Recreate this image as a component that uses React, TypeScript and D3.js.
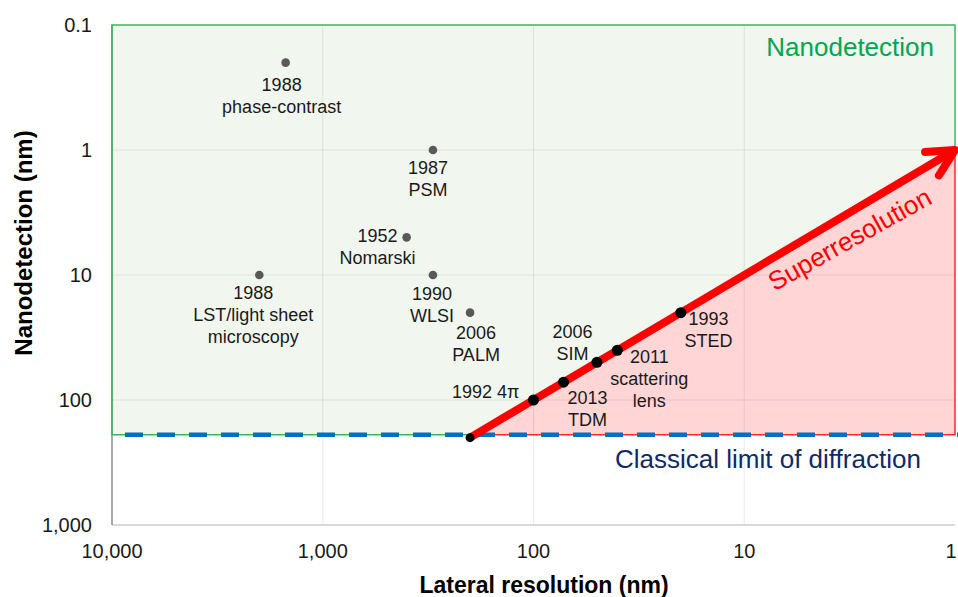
import React from "react";
import * as d3 from "d3";

// ---- data ----
const xTicks = [10000, 1000, 100, 10, 1];
const xTickLabels = ["10,000", "1,000", "100", "10", "1"];
const yTicks = [0.1, 1, 10, 100, 1000];
const yTickLabels = ["0.1", "1", "10", "100", "1,000"];

const otherNames = ["phase-contrast", "PSM", "Nomarski", "WLSI", "LST", "PALM"];
const otherLateral = [1500, 300, 400, 300, 2000, 200];
const otherDetection = [0.2, 1, 5, 10, 10, 20];

const superNames = ["4pi", "TDM", "SIM", "scattering", "STED"];
const superLateral = [100, 72, 50, 40, 20];
const superDetection = [100, 72, 50, 40, 20];

const diffractionLimit = 190;
const arrowStart = [200, 200];
const arrowEnd = [1, 1];

// label text + layout (pixel offsets from the point)
const labelLayout: Record<string, { lines: string[]; dx: number; dy: number; anchor?: string }> = {
  "phase-contrast": { lines: ["1988", "phase-contrast"], dx: -4, dy: 28 },
  PSM: { lines: ["1987", "PSM"], dx: -5, dy: 23.5 },
  Nomarski: { lines: ["1952", "Nomarski"], dx: -29, dy: 5 },
  WLSI: { lines: ["1990", "WLSI"], dx: -1, dy: 24.5 },
  LST: { lines: ["1988", "LST/light sheet", "microscopy"], dx: -6, dy: 24 },
  PALM: { lines: ["2006", "PALM"], dx: 6, dy: 26 },
  "4pi": { lines: ["1992 4\u03c0"], dx: -14, dy: -2, anchor: "end" },
  TDM: { lines: ["2013", "TDM"], dx: 24, dy: 22 },
  SIM: { lines: ["2006", "SIM"], dx: -24.5, dy: -24.4 },
  scattering: { lines: ["2011", "scattering", "lens"], dx: 32, dy: 12.4 },
  STED: { lines: ["1993", "STED"], dx: 27.6, dy: 12.4 },
};

const W = 958;
const H = 597;
const margin = { left: 112, right: 3, top: 25, bottom: 72 };
const FONT = "'Liberation Sans', Arial, sans-serif";

export default function App() {
  const x = d3.scaleLog().domain([10000, 1]).range([margin.left, W - margin.right]);
  const y = d3.scaleLog().domain([0.1, 1000]).range([margin.top, H - margin.bottom]);

  const x0 = x(10000), x1 = x(1), yT = y(0.1), yB = y(1000);
  const line = d3.line<number[]>().x((d) => x(d[0])).y((d) => y(d[1]));

  const greenPoly: number[][] = [
    [10000, 0.1], [1, 0.1], arrowEnd, arrowStart, [arrowStart[0], diffractionLimit], [10000, diffractionLimit],
  ];
  const redPoly: number[][] = [arrowStart, arrowEnd, [1, diffractionLimit], [arrowStart[0], diffractionLimit]];

  // arrow geometry
  const sx = x(arrowStart[0]), sy = y(arrowStart[1]);
  const ex = x(arrowEnd[0]), ey = y(arrowEnd[1]);
  const back = Math.atan2(sy - ey, sx - ex);
  const armLen = 30, armAng = (27 * Math.PI) / 180;
  const a1 = [ex + armLen * Math.cos(back - armAng), ey + armLen * Math.sin(back - armAng)];
  const a2 = [ex + armLen * Math.cos(back + armAng), ey + armLen * Math.sin(back + armAng)];
  const angleDeg = (Math.atan2(ey - sy, ex - sx) * 180) / Math.PI;

  const renderLabel = (name: string, px: number, py: number) => {
    const l = labelLayout[name];
    return (
      <text
        key={"lab-" + name}
        x={px + l.dx}
        y={py + l.dy}
        textAnchor={l.anchor || "middle"}
        fontSize={18}
        fill="#1a1a1a"
        fontFamily={FONT}
      >
        {l.lines.map((t, i) => (
          <tspan key={i} x={px + l.dx} dy={i === 0 ? 0 : 22}>
            {t}
          </tspan>
        ))}
      </text>
    );
  };

  return (
    <svg width={W} height={H} style={{ position: "absolute", left: 0, top: 0, background: "#fff" }} fontFamily={FONT}>
      {/* fills */}
      <path d={line(greenPoly)! + "Z"} fill="#f1f6ef" stroke="none" />
      <path d={line(redPoly)! + "Z"} fill="#ffd5d5" stroke="none" />

      {/* gridlines */}
      {xTicks.slice(1, -1).map((t) => (
        <line key={"gx" + t} x1={x(t)} x2={x(t)} y1={yT} y2={yB} stroke="#000" strokeOpacity={0.08} />
      ))}
      {yTicks.slice(1, -1).map((t) => (
        <line key={"gy" + t} x1={x0} x2={x1} y1={y(t)} y2={y(t)} stroke="#000" strokeOpacity={0.08} />
      ))}

      {/* axes */}
      <line x1={x0} x2={x1} y1={yB} y2={yB} stroke="#d9d9d9" strokeWidth={2} />
      <line x1={x0} x2={x0} y1={yT} y2={yB} stroke="#8c8c8c" strokeWidth={1.5} />

      {/* region borders */}
      <path d={line(greenPoly)! + "Z"} fill="none" stroke="#3cb55c" strokeWidth={1.5} />
      <path
        d={line([arrowEnd, [1, diffractionLimit], [arrowStart[0], diffractionLimit]])!}
        fill="none"
        stroke="#ff2a2a"
        strokeWidth={1.5}
      />

      {/* classical limit dashed */}
      <line
        x1={x0}
        x2={W}
        y1={y(diffractionLimit)}
        y2={y(diffractionLimit)}
        stroke="#0070c0"
        strokeWidth={4.5}
        strokeDasharray="18 14"
        strokeDashoffset={19}
      />

      {/* tick labels */}
      {xTicks.map((t, i) => (
        <text key={"xt" + t} x={Math.min(x(t), W - 7)} y={558} textAnchor="middle" fontSize={20} fill="#1a1a1a">
          {xTickLabels[i]}
        </text>
      ))}
      {yTicks.map((t, i) => (
        <text key={"yt" + t} x={92} y={y(t) + 7} textAnchor="end" fontSize={20} fill="#1a1a1a">
          {yTickLabels[i]}
        </text>
      ))}

      {/* axis titles */}
      <text x={544} y={593} textAnchor="middle" fontSize={23} fontWeight="bold" fill="#000">
        Lateral resolution (nm)
      </text>
      <text
        transform={`translate(32,${(yT + yB) / 2 - 32}) rotate(-90)`}
        textAnchor="middle"
        fontSize={24}
        fontWeight="bold"
        fill="#000"
      >
        Nanodetection (nm)
      </text>

      {/* other technique points */}
      {otherNames.map((n, i) => (
        <circle key={"o" + n} cx={x(otherLateral[i])} cy={y(otherDetection[i])} r={4.3} fill="#595959" />
      ))}
      {otherNames.map((n, i) => renderLabel(n, x(otherLateral[i]), y(otherDetection[i])))}

      {/* superresolution arrow */}
      <path d={line([arrowStart, arrowEnd])!} stroke="#ff0000" strokeWidth={8} fill="none" />
      <path
        d={`M${a1[0]},${a1[1]}L${ex},${ey}L${a2[0]},${a2[1]}`}
        stroke="#ff0000"
        strokeWidth={8}
        fill="none"
        strokeLinecap="round"
        strokeLinejoin="round"
      />
      <circle cx={sx} cy={sy} r={4.5} fill="#000" />
      {superNames.map((n, i) => (
        <circle key={"s" + n} cx={x(superLateral[i])} cy={y(superDetection[i])} r={5.5} fill="#000" />
      ))}
      {superNames.map((n, i) => renderLabel(n, x(superLateral[i]), y(superDetection[i])))}

      {/* region labels */}
      <text x={934} y={56} textAnchor="end" fontSize={26} fill="#00a650">
        Nanodetection
      </text>
      <text x={615} y={468} textAnchor="start" fontSize={26} fill="#0d2a6b">
        Classical limit of diffraction
      </text>
      <text
        transform={`translate(854,247) rotate(${angleDeg + 1.5})`}
        textAnchor="middle"
        fontSize={26}
        fill="#ff0000"
      >
        Superresolution
      </text>
    </svg>
  );
}
